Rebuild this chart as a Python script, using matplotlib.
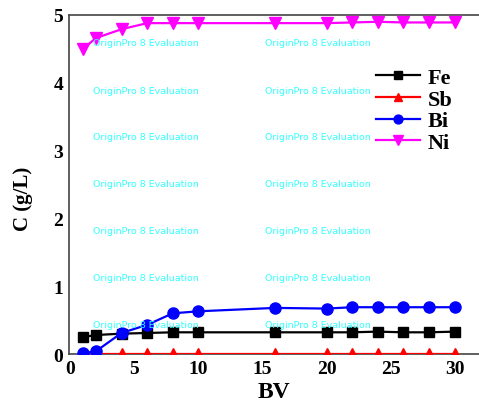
import matplotlib
matplotlib.use("Agg")
import matplotlib.pyplot as plt

# BV values (bed volumes)
bv = [1, 2, 4, 6, 8, 10, 16, 20, 22, 24, 26, 28, 30]

# concentrations, g/L
fe = [0.25, 0.28, 0.30, 0.31, 0.32, 0.32, 0.32, 0.32, 0.32, 0.33, 0.32, 0.32, 0.33]
sb = [0.0, 0.0, 0.0, 0.0, 0.0, 0.0, 0.0, 0.0, 0.0, 0.0, 0.0, 0.0, 0.0]
bi = [0.01, 0.04, 0.31, 0.43, 0.60, 0.63, 0.68, 0.67, 0.69, 0.69, 0.69, 0.69, 0.69]
ni = [4.50, 4.66, 4.79, 4.88, 4.88, 4.88, 4.88, 4.88, 4.89, 4.90, 4.89, 4.89, 4.89]

xticks = [0, 5, 10, 15, 20, 25, 30]
yticks = [0, 1, 2, 3, 4, 5]

plt.rcParams["font.family"] = ["Liberation Serif", "DejaVu Serif"]
plt.rcParams["font.weight"] = "bold"

fig = plt.figure(figsize=(4.79, 4.06), dpi=100)
ax = fig.add_axes([0.144, 0.1256, 0.856, 0.835])

ax.plot(bv, fe, color="black", marker="s", markersize=7, linewidth=1.6, label="Fe", zorder=3)
ax.plot(bv, sb, color="red", marker="^", markersize=8, linewidth=1.6, label="Sb", zorder=3)
ax.plot(bv, bi, color="blue", marker="o", markersize=8, linewidth=1.6, label="Bi", zorder=4)
ax.plot(bv, ni, color="magenta", marker="v", markersize=9, linewidth=1.6, label="Ni", zorder=3)

ax.set_xlim(-0.1, 31.9)
ax.set_ylim(0, 5)
ax.set_xticks(xticks)
ax.set_yticks(yticks)
ax.tick_params(length=0, labelsize=14, pad=4)
for lab in ax.get_xticklabels() + ax.get_yticklabels():
    lab.set_fontweight("bold")

for side in ["left", "bottom", "top"]:
    ax.spines[side].set_color("#444444")
    ax.spines[side].set_linewidth(1.2)
ax.spines["right"].set_visible(False)

ax.set_xlabel("BV", fontsize=17, fontweight="bold", va="center")
ax.set_ylabel("C (g/L)", fontsize=15, fontweight="bold", va="center")
ax.xaxis.set_label_coords(0.5, -0.112)
ax.yaxis.set_label_coords(-0.112, 0.46)

leg = ax.legend(loc="upper right", bbox_to_anchor=(0.985, 0.904), frameon=False,
                handlelength=2.0, handletextpad=0.35, labelspacing=0.05,
                markerscale=0.8, prop={"weight": "bold", "size": 16})

# evaluation watermark
for xp in [93, 265]:
    for yp in [44, 91, 138, 185, 232, 279, 326]:
        fig.text(xp / 479, 1 - yp / 406, "OriginPro 8 Evaluation", color="#33ffff",
                 fontsize=6.8, family="DejaVu Sans", fontweight="normal",
                 va="center", ha="left", zorder=1)

fig.savefig("out.png", dpi=100)
